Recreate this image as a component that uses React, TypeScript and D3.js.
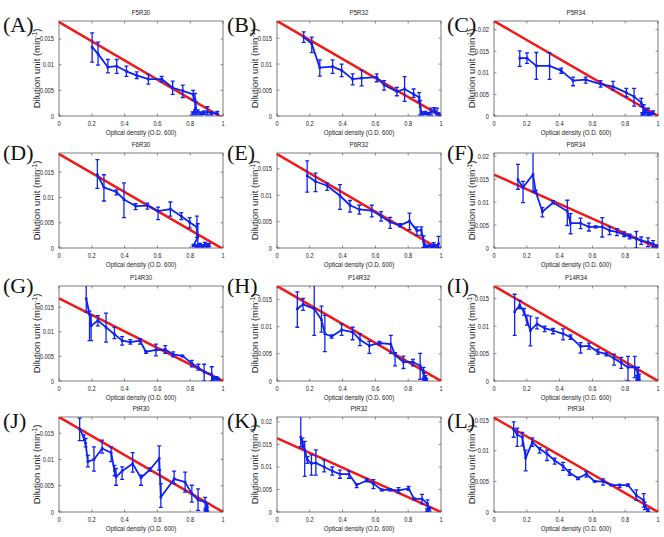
import React from 'react';
import * as d3 from 'd3';

type Pt = [number, number, number, number]; // x, mean, low, high

const panelLetters = ["(A)", "(B)", "(C)", "(D)", "(E)", "(F)", "(G)", "(H)", "(I)", "(J)", "(K)", "(L)"];
const panelTitles = ["F5R30", "P5R32", "P5R34", "F6R30", "P6R32", "P6R34", "P14R30", "P14R32", "P14R34", "PtR30", "PtR32", "PtR34"];
const yMaxes = [0.0185, 0.0183, 0.022, 0.0188, 0.018, 0.0207, 0.0193, 0.0175, 0.0173, 0.0181, 0.0211, 0.0155];
const redStart = [0.0183, 0.0183, 0.022, 0.0186, 0.0178, 0.016, 0.0168, 0.0175, 0.0173, 0.0181, 0.0164, 0.0154];
const redEnd = [-0.0004, 0, 0, -0.0002, -0.0004, 0, 0, 0, 0, 0, 0, 0];

const xTicks = [0, 0.2, 0.4, 0.6, 0.8, 1];
const xTickLabels = ["0", "0.2", "0.4", "0.6", "0.8", "1"];
const yTicks = [0, 0.005, 0.01, 0.015, 0.02];
const yTickLabels = ["0", "0.005", "0.01", "0.015", "0.02"];
const xLabel = "Optical density (O.D. 600)";
const yLabelMain = "Dilution unit (min";
const yLabelSup = "-1";

const panelA: Pt[] = [
  [0.202, 0.0134, 0.0105, 0.0162], [0.238, 0.0121, 0.0099, 0.0144], [0.298, 0.0095, 0.0084, 0.011],
  [0.352, 0.0097, 0.0083, 0.011], [0.411, 0.0087, 0.0077, 0.0097], [0.474, 0.0079, 0.0073, 0.0086],
  [0.545, 0.0072, 0.0062, 0.0081], [0.626, 0.0072, 0.0066, 0.0077], [0.693, 0.0055, 0.0042, 0.0068],
  [0.755, 0.0049, 0.0036, 0.006], [0.818, 0.0042, 0.0031, 0.005], [0.83, 0.0031, 0.0012, 0.0044],
  [0.834, 0.0015, 0.0002, 0.0028], [0.815, 0.0005, 0.0002, 0.0008], [0.846, 0.0008, 0.0003, 0.0012],
  [0.866, 0.0005, 0.0002, 0.0008], [0.885, 0.0006, 0.0003, 0.001], [0.905, 0.0008, 0.0002, 0.0018],
  [0.93, 0.0005, 0.0002, 0.0008], [0.965, 0.0006, 0.0003, 0.0009],
];
const panelB: Pt[] = [
  [0.163, 0.0152, 0.0142, 0.0162], [0.212, 0.0139, 0.0122, 0.0152], [0.261, 0.0093, 0.0077, 0.0108],
  [0.339, 0.0095, 0.0082, 0.0108], [0.394, 0.0088, 0.0076, 0.01], [0.461, 0.0071, 0.006, 0.0081],
  [0.516, 0.0073, 0.0058, 0.0088], [0.608, 0.0075, 0.0066, 0.0081], [0.653, 0.006, 0.005, 0.0068],
  [0.731, 0.0047, 0.0039, 0.0055], [0.778, 0.0052, 0.0028, 0.0076], [0.833, 0.0042, 0.0036, 0.0052],
  [0.867, 0.0036, 0.0028, 0.0045], [0.873, 0.0018, 0.0002, 0.003], [0.884, 0.0005, 0.0002, 0.0008],
  [0.904, 0.0006, 0.0003, 0.0009], [0.924, 0.0004, 0.0002, 0.0007], [0.939, 0.0008, 0.0002, 0.0015],
  [0.959, 0.0012, 0.0006, 0.0016], [0.976, 0.0006, 0.0002, 0.0015], [0.986, 0.0004, 0.0002, 0.0006],
];
const panelC: Pt[] = [
  [0.157, 0.0134, 0.0115, 0.0151], [0.201, 0.0134, 0.0122, 0.0146], [0.258, 0.0116, 0.0085, 0.0147],
  [0.339, 0.0116, 0.0085, 0.0146], [0.41, 0.0105, 0.0099, 0.0111], [0.482, 0.0082, 0.007, 0.009],
  [0.559, 0.0084, 0.0076, 0.009], [0.65, 0.0074, 0.0067, 0.0082], [0.726, 0.0068, 0.006, 0.008],
  [0.807, 0.0054, 0.0045, 0.0064], [0.854, 0.0045, 0.0023, 0.0064], [0.898, 0.0031, 0.0022, 0.0041],
  [0.913, 0.0014, 0.0002, 0.0026], [0.904, 0.0005, 0.0002, 0.0008], [0.925, 0.001, 0.0005, 0.0014],
  [0.939, 0.0006, 0.0001, 0.0018], [0.953, 0.0005, 0.0002, 0.0008], [0.97, 0.0008, 0.0004, 0.0012],
];
const panelD: Pt[] = [
  [0.234, 0.0145, 0.0118, 0.0175], [0.274, 0.012, 0.0093, 0.0145], [0.35, 0.0111, 0.0105, 0.0115],
  [0.396, 0.0096, 0.006, 0.0129], [0.467, 0.0083, 0.0076, 0.0088], [0.539, 0.0084, 0.0077, 0.0089],
  [0.604, 0.0073, 0.0056, 0.0081], [0.679, 0.0077, 0.0063, 0.0091], [0.746, 0.0063, 0.0056, 0.007],
  [0.797, 0.0051, 0.004, 0.006], [0.841, 0.0041, 0.0021, 0.0063], [0.846, 0.0021, 0.0002, 0.0048],
  [0.82, 0.0005, 0.0003, 0.0007], [0.84, 0.0004, 0.0002, 0.0006], [0.86, 0.0006, 0.0003, 0.0009],
  [0.875, 0.0004, 0.0002, 0.0006], [0.89, 0.0007, 0.0003, 0.0011], [0.905, 0.0005, 0.0002, 0.0008],
  [0.915, 0.0006, 0.0003, 0.0009],
];
const panelE: Pt[] = [
  [0.184, 0.0137, 0.0106, 0.0165], [0.235, 0.0126, 0.0107, 0.0142], [0.306, 0.0118, 0.0109, 0.0123],
  [0.384, 0.0099, 0.0073, 0.012], [0.445, 0.0081, 0.0068, 0.009], [0.502, 0.0073, 0.0064, 0.0081],
  [0.578, 0.0071, 0.0059, 0.0081], [0.635, 0.006, 0.0051, 0.0069], [0.69, 0.0049, 0.0037, 0.0058],
  [0.751, 0.0043, 0.004, 0.0046], [0.808, 0.0051, 0.0035, 0.0066], [0.853, 0.0033, 0.0024, 0.004],
  [0.88, 0.0034, 0.0024, 0.004], [0.894, 0.0012, 0.0001, 0.0023], [0.9, 0.0005, 0.0002, 0.0008],
  [0.915, 0.0003, 0.0001, 0.0005], [0.93, 0.0004, 0.0002, 0.0006], [0.945, 0.0003, 0.0001, 0.0005],
  [0.955, 0.0006, 0.0002, 0.001], [0.97, 0.0004, 0.0002, 0.0006], [0.985, 0.0008, 0.0001, 0.0022],
];
const panelF: Pt[] = [
  [0.146, 0.0149, 0.0128, 0.0182], [0.177, 0.0132, 0.0099, 0.0145], [0.238, 0.016, 0.0123, 0.0215],
  [0.254, 0.0123, 0.012, 0.0126], [0.295, 0.0079, 0.0068, 0.0088], [0.36, 0.0099, 0.0096, 0.0103],
  [0.447, 0.008, 0.0049, 0.0104], [0.467, 0.0054, 0.0031, 0.0075], [0.528, 0.0054, 0.0042, 0.0065],
  [0.579, 0.0046, 0.0037, 0.0054], [0.62, 0.0046, 0.0044, 0.0048], [0.66, 0.0046, 0.0024, 0.0066],
  [0.705, 0.0038, 0.0029, 0.0046], [0.75, 0.0035, 0.0027, 0.0042], [0.793, 0.0029, 0.0025, 0.0035],
  [0.827, 0.0025, 0.002, 0.003], [0.868, 0.002, 0.0, 0.0036], [0.898, 0.0016, 0.0008, 0.0024],
  [0.939, 0.0013, 0.0003, 0.0022], [0.97, 0.0009, 0.0002, 0.0016], [0.994, 0.0005, 0.0003, 0.0007],
];
const panelG: Pt[] = [
  [0.166, 0.0167, 0.014, 0.0195], [0.186, 0.0136, 0.0082, 0.0142], [0.196, 0.0112, 0.0082, 0.0133],
  [0.237, 0.0123, 0.0112, 0.0133], [0.287, 0.0109, 0.0079, 0.0138], [0.338, 0.0095, 0.0086, 0.0109],
  [0.385, 0.0082, 0.0073, 0.009], [0.435, 0.0079, 0.0075, 0.0084], [0.494, 0.0082, 0.0075, 0.0086],
  [0.53, 0.0059, 0.0056, 0.0061], [0.591, 0.0063, 0.0051, 0.0075], [0.648, 0.0064, 0.0056, 0.0072],
  [0.696, 0.0054, 0.0049, 0.0059], [0.753, 0.0051, 0.0049, 0.0052], [0.81, 0.0036, 0.0029, 0.0042],
  [0.85, 0.0027, 0.0022, 0.0034], [0.885, 0.0018, 0.0, 0.0034], [0.931, 0.0013, 0.0, 0.0029],
  [0.94, 0.0006, 0.0003, 0.0009], [0.95, 0.0005, 0.0002, 0.0008], [0.96, 0.0006, 0.0003, 0.0009],
  [0.97, 0.0004, 0.0002, 0.0006],
];
const panelH: Pt[] = [
  [0.124, 0.0133, 0.0099, 0.0164], [0.159, 0.0141, 0.013, 0.0152], [0.227, 0.0133, 0.0084, 0.018],
  [0.271, 0.0113, 0.009, 0.0138], [0.292, 0.0087, 0.0054, 0.0121], [0.333, 0.0082, 0.0079, 0.0085],
  [0.394, 0.0094, 0.0084, 0.0105], [0.461, 0.009, 0.0076, 0.0099], [0.506, 0.0076, 0.0065, 0.0087],
  [0.563, 0.0065, 0.0051, 0.0073], [0.624, 0.007, 0.0067, 0.0073], [0.694, 0.0068, 0.0051, 0.0084],
  [0.72, 0.0048, 0.0028, 0.0052], [0.771, 0.0035, 0.0023, 0.0046], [0.829, 0.0035, 0.0028, 0.004],
  [0.873, 0.0028, 0.0003, 0.0051], [0.894, 0.0015, 0.0005, 0.0025], [0.896, 0.0008, 0.0002, 0.0015],
  [0.9, 0.0004, 0.0001, 0.0007], [0.905, 0.0006, 0.0002, 0.001], [0.91, 0.0003, 0.0001, 0.0005],
];
const panelI: Pt[] = [
  [0.126, 0.0126, 0.0083, 0.0158], [0.157, 0.0138, 0.0132, 0.0147], [0.183, 0.0126, 0.012, 0.0132],
  [0.201, 0.011, 0.0102, 0.012], [0.222, 0.0092, 0.0064, 0.0118], [0.262, 0.0104, 0.0095, 0.0115],
  [0.309, 0.0096, 0.009, 0.01], [0.36, 0.0092, 0.0086, 0.0096], [0.421, 0.0086, 0.0075, 0.0095],
  [0.467, 0.008, 0.0076, 0.0084], [0.528, 0.0063, 0.0051, 0.007], [0.579, 0.0064, 0.0058, 0.0069],
  [0.634, 0.0053, 0.0049, 0.0058], [0.685, 0.0049, 0.0046, 0.0051], [0.732, 0.0041, 0.0029, 0.0049],
  [0.776, 0.0033, 0.0023, 0.0043], [0.817, 0.0025, 0.0, 0.0045], [0.858, 0.0025, 0.0006, 0.0045],
  [0.878, 0.0015, 0.0, 0.0025], [0.872, 0.0006, 0.0002, 0.001], [0.88, 0.0004, 0.0001, 0.0007],
  [0.885, 0.0008, 0.0003, 0.0012],
];
const panelJ: Pt[] = [
  [0.126, 0.0158, 0.0136, 0.0179], [0.15, 0.0144, 0.0136, 0.0147], [0.162, 0.0131, 0.0124, 0.014],
  [0.176, 0.0096, 0.0086, 0.0108], [0.213, 0.01, 0.0078, 0.0124], [0.263, 0.0121, 0.0112, 0.0137],
  [0.318, 0.0113, 0.0096, 0.0124], [0.338, 0.0079, 0.0069, 0.0089], [0.348, 0.0067, 0.0051, 0.0083],
  [0.385, 0.0078, 0.0062, 0.0086], [0.449, 0.0092, 0.0076, 0.0113], [0.5, 0.0065, 0.0051, 0.007],
  [0.555, 0.0081, 0.0078, 0.0084], [0.611, 0.0102, 0.008, 0.0126], [0.621, 0.0028, 0.0009, 0.0054],
  [0.702, 0.0063, 0.0054, 0.0078], [0.769, 0.0057, 0.0038, 0.0076], [0.81, 0.0035, 0.0019, 0.0051],
  [0.848, 0.0023, 0.0003, 0.0044], [0.891, 0.0019, 0.0004, 0.0028], [0.905, 0.0009, 0.0002, 0.0016],
  [0.895, 0.0005, 0.0002, 0.0008], [0.9, 0.0003, 0.0001, 0.0005],
];
const panelK: Pt[] = [
  [0.145, 0.0166, 0.0145, 0.0215], [0.155, 0.0153, 0.0142, 0.0164], [0.169, 0.0138, 0.0079, 0.0157],
  [0.186, 0.0115, 0.0108, 0.0123], [0.21, 0.0108, 0.0082, 0.0127], [0.237, 0.0109, 0.0082, 0.0138],
  [0.288, 0.01, 0.0089, 0.0115], [0.337, 0.0091, 0.0082, 0.01], [0.384, 0.0084, 0.0075, 0.0093],
  [0.439, 0.0084, 0.0075, 0.0091], [0.486, 0.006, 0.0054, 0.0063], [0.547, 0.007, 0.0067, 0.0074],
  [0.588, 0.0063, 0.0052, 0.0072], [0.639, 0.0049, 0.0047, 0.0051], [0.69, 0.0049, 0.0047, 0.0052],
  [0.741, 0.0048, 0.0042, 0.0054], [0.802, 0.0052, 0.0048, 0.0057], [0.837, 0.0029, 0.0027, 0.0031],
  [0.884, 0.0029, 0.0018, 0.0039], [0.918, 0.0018, 0.0007, 0.0027], [0.924, 0.0007, 0.0002, 0.0012],
  [0.915, 0.0004, 0.0001, 0.0007], [0.93, 0.0006, 0.0002, 0.0009],
];
const panelL: Pt[] = [
  [0.12, 0.0135, 0.0122, 0.0147], [0.142, 0.0126, 0.0107, 0.0137], [0.173, 0.0122, 0.0108, 0.013],
  [0.193, 0.0088, 0.0067, 0.0101], [0.234, 0.0114, 0.0107, 0.0121], [0.278, 0.0103, 0.0096, 0.0105],
  [0.323, 0.0095, 0.0084, 0.0101], [0.37, 0.0084, 0.0078, 0.0088], [0.421, 0.0075, 0.0068, 0.0081],
  [0.461, 0.0064, 0.006, 0.0069], [0.512, 0.0055, 0.0053, 0.0057], [0.563, 0.0062, 0.0057, 0.0066],
  [0.614, 0.005, 0.0049, 0.0051], [0.665, 0.005, 0.0044, 0.0054], [0.715, 0.0044, 0.0043, 0.0045],
  [0.766, 0.0044, 0.004, 0.0045], [0.817, 0.0044, 0.0042, 0.0046], [0.868, 0.0027, 0.0019, 0.0036],
  [0.913, 0.0019, 0.0008, 0.003], [0.919, 0.001, 0.0004, 0.0016], [0.939, 0.0003, 0.0001, 0.0005],
];

const panelData: Pt[][] = [panelA, panelB, panelC, panelD, panelE, panelF, panelG, panelH, panelI, panelJ, panelK, panelL];

// layout
const colLeft = [59, 277, 494];
const rowTop = [21, 153, 286, 417];
const plotW = 164;
const plotH = 95;
const letterBase = [32, 160, 293, 428];
const letterX = [3, 227, 447];

const BLUE = '#1022f0';
const RED = '#f01818';
const SANS = 'Liberation Sans, Arial, sans-serif';

function SText({ x, y, size, anchor, sx, children, fill }: any) {
  return (
    <text
      transform={`translate(${x},${y}) scale(${sx},1)`}
      fontSize={size}
      fontFamily={SANS}
      textAnchor={anchor}
      fill={fill || '#222'}
    >
      {children}
    </text>
  );
}

function Panel({ i }: { i: number }) {
  const col = i % 3;
  const row = Math.floor(i / 3);
  const left = colLeft[col];
  const top = rowTop[row];
  const data = panelData[i];
  const yMax = yMaxes[i];
  const x = d3.scaleLinear().domain([0, 1]).range([left, left + plotW]);
  const y = d3.scaleLinear().domain([0, yMax]).range([top + plotH, top]);
  const clipId = `clip${i}`;
  const line = d3.line<[number, number]>().x(d => x(d[0])).y(d => y(d[1]));
  const red = line([[0, redStart[i]], [1, redEnd[i]]]) || '';
  const blue = line(data.map(d => [d[0], d[1]] as [number, number])) || '';
  const cap = 2;
  const errPath = data
    .filter(d => d[3] - d[2] > 0.00001)
    .map(d => {
      const px = x(d[0]);
      const yl = y(d[2]);
      const yh = y(d[3]);
      return `M${px},${yl}V${yh}M${px - cap},${yl}H${px + cap}M${px - cap},${yh}H${px + cap}`;
    })
    .join('');
  const yt = yTicks.filter(t => t <= yMax + 1e-9);
  const cx = left + plotW / 2;
  const cy = top + plotH / 2;
  return (
    <g>
      <defs>
        <clipPath id={clipId}>
          <rect x={left} y={top} width={plotW} height={plotH} />
        </clipPath>
      </defs>
      <rect x={left} y={top} width={plotW} height={plotH} fill="#fff" stroke="#444" strokeWidth={0.7} />
      {xTicks.map((t, k) => (
        <g key={'xt' + k}>
          <line x1={x(t)} x2={x(t)} y1={top + plotH} y2={top + plotH - 2.5} stroke="#444" strokeWidth={0.6} />
          <line x1={x(t)} x2={x(t)} y1={top} y2={top + 2.5} stroke="#444" strokeWidth={0.6} />
          <SText x={x(t)} y={top + plotH + 10} size={7} anchor="middle" sx={0.82}>{xTickLabels[k]}</SText>
        </g>
      ))}
      {yt.map((t, k) => (
        <g key={'yt' + k}>
          <line x1={left} x2={left + 2.5} y1={y(t)} y2={y(t)} stroke="#444" strokeWidth={0.6} />
          <line x1={left + plotW} x2={left + plotW - 2.5} y1={y(t)} y2={y(t)} stroke="#444" strokeWidth={0.6} />
          <SText x={left - 5} y={y(t) + 2.5} size={7} anchor="end" sx={0.82}>{yTickLabels[k]}</SText>
        </g>
      ))}
      <g clipPath={`url(#${clipId})`}>
        <path d={red} stroke={RED} strokeWidth={2.5} fill="none" />
        <path d={errPath} stroke={BLUE} strokeWidth={1.3} fill="none" />
        <path d={blue} stroke={BLUE} strokeWidth={1.8} fill="none" strokeLinejoin="round" />
        {data.map((d, k) => (
          <rect key={k} x={x(d[0]) - 1.3} y={y(d[1]) - 1.3} width={2.6} height={2.6} fill={BLUE} />
        ))}
      </g>
      <SText x={cx} y={top - 6} size={7.5} anchor="middle" sx={0.82}>{panelTitles[i]}</SText>
      <SText x={cx} y={top + plotH + 19} size={7.5} anchor="middle" sx={0.82}>{xLabel}</SText>
      <text
        transform={`translate(${left - 19},${cy}) rotate(-90)`}
        fontSize={9.5}
        fontFamily={SANS}
        textAnchor="middle"
        fill="#222"
      >
        {yLabelMain}
        <tspan fontSize={6.5} dy={-3.5}>{yLabelSup}</tspan>
        <tspan dy={3.5}>)</tspan>
      </text>
      <text
        x={letterX[col]}
        y={letterBase[row]}
        fontSize={22}
        fontFamily="Liberation Serif, Times New Roman, serif"
        fill="#111"
      >
        {panelLetters[i]}
      </text>
    </g>
  );
}

export default function App() {
  return (
    <svg
      width={664}
      height={537}
      style={{ position: 'absolute', left: 0, top: 0, background: '#fff' }}
    >
      <rect x={0} y={0} width={664} height={537} fill="#fff" />
      {panelData.map((_, i) => (
        <Panel key={i} i={i} />
      ))}
    </svg>
  );
}
